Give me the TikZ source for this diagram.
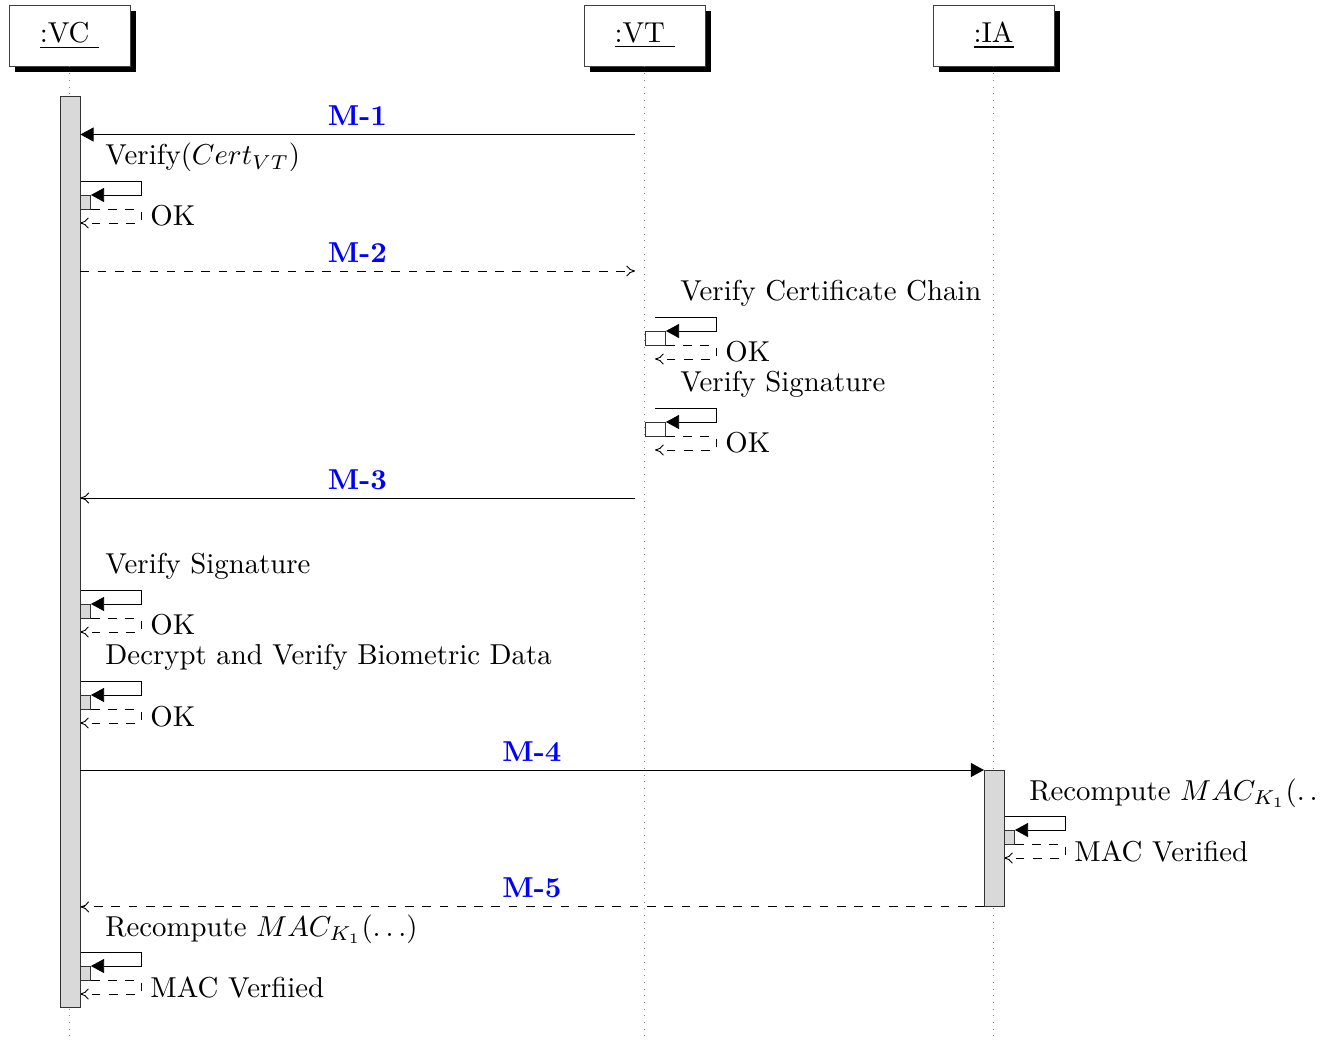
\documentclass[tikz,border=0pt]{standalone}
\usetikzlibrary{arrows.meta,shadows}

\tikzset{
  lifebox/.style={draw=black!75, fill=white, minimum width=42.01pt, minimum height=21.18pt,
    inner sep=0pt, general shadow={fill=black, shadow xshift=2.08pt, shadow yshift=-2.08pt}},
  lifeline/.style={gray, dotted},
  actbar/.style={draw=black!80, fill=gray!30, minimum width=6.944pt, inner sep=0pt, anchor=north west},
  subbar/.style={draw=black!80, minimum width=6.944pt, minimum height=4.861pt, inner sep=0pt, anchor=north west},
  callarrow/.style={-{Triangle[length=4.6pt,width=4.9pt]}},
  opentip/.style={-{To[length=3pt,width=3.8pt]}},
  replyarrow/.style={dashed, opentip},
  msgarrow/.style={opentip},
  msglabel/.style={text=blue, font=\bfseries, anchor=base, inner sep=0pt},
  txt/.style={anchor=base west, inner sep=0pt},
}

% self call: #1 x where the call leaves the bar, #2 y of the call line,
% #3 fill of the nested bar, #4 call text, #5 reply text, #6 name
\newcommand\umlcallself[6]{%
  \node[txt] (#6-call) at ({#1+25},{#2-16}) {#4};
  \node[subbar, fill=#3] (#6-bar) at ({#1-10},{#2+14}) {};
  \draw[callarrow] (#1,#2) -| ({#1+61},{#2+14}) -- (#6-bar.north east);
  \coordinate (#6-back) at (#1,{#2+42});
  \draw[replyarrow] (#6-bar.south east) -| ({#1+61},{#2+42}) -- (#6-back);
  \node[txt] (#6-reply) at ({#1+70},{#2+45}) {#5};
}

\begin{document}
\begin{tikzpicture}[x=0.3472pt,y=-0.3472pt,line width=0.32pt]
\useasboundingbox (0,0) rectangle (1320,1041);

% lifelines
\coordinate (vc-end) at (69.5,1041);
\coordinate (vt-end) at (644.5,1041);
\coordinate (ia-end) at (993.5,1041);
\node[lifebox] (vc) at (69.5,35.5) {\underline{:VC\ }};
\node[lifebox] (vt) at (644.5,35.5) {\underline{:VT\ }};
\node[lifebox] (ia) at (993.5,35.5) {\underline{:IA}};
\draw[lifeline] (vc.south) -- (vc-end);
\draw[lifeline] (vt.south) -- (vt-end);
\draw[lifeline] (ia.south) -- (ia-end);

% self calls
\umlcallself{80}{181}{gray!30}{Verify($Cert_{VT}$)}{OK}{s1}
\umlcallself{655}{317}{white}{Verify Certificate Chain}{OK}{s2}
\umlcallself{655}{408}{white}{Verify Signature}{OK}{s3}
\umlcallself{80}{590}{gray!30}{Verify Signature}{OK}{s4}
\umlcallself{80}{681}{gray!30}{Decrypt and Verify Biometric Data}{OK}{s5}
\umlcallself{1004}{816}{gray!30}{Recompute $MAC_{K_1}(\ldots)$}{MAC Verified}{s6}
\umlcallself{80}{952}{gray!30}{Recompute $MAC_{K_1}(\ldots)$}{MAC Verfiied}{s7}

% activation bars
\node[actbar, minimum height=316.3pt] (vcbar) at (59.5,96) {};
\node[actbar, minimum height=47.22pt] (iabar) at (984,770) {};

% messages
\coordinate (vt-m1) at (635,134.5);
\coordinate (vt-m2) at (635,271);
\coordinate (vt-m3) at (635,498);
\coordinate (vc-m4) at (80,770);

\draw[callarrow] (vt-m1) -- (vcbar.east |- vt-m1);
\node[msglabel] (m1) at (357.5,126) {M-1};

\draw[replyarrow] (vcbar.east |- vt-m2) -- (vt-m2);
\node[msglabel] (m2) at (357.5,262.5) {M-2};

\draw[msgarrow] (vt-m3) -- (vcbar.east |- vt-m3);
\node[msglabel] (m3) at (357.5,489.5) {M-3};

\draw[callarrow] (vcbar.east |- vc-m4) -- (iabar.north west);
\node[msglabel] (m4) at (532,761.5) {M-4};

\draw[replyarrow] (iabar.south west) -- (vcbar.east |- iabar.south west);
\node[msglabel] (m5) at (532,897.5) {M-5};
\end{tikzpicture}
\end{document}
